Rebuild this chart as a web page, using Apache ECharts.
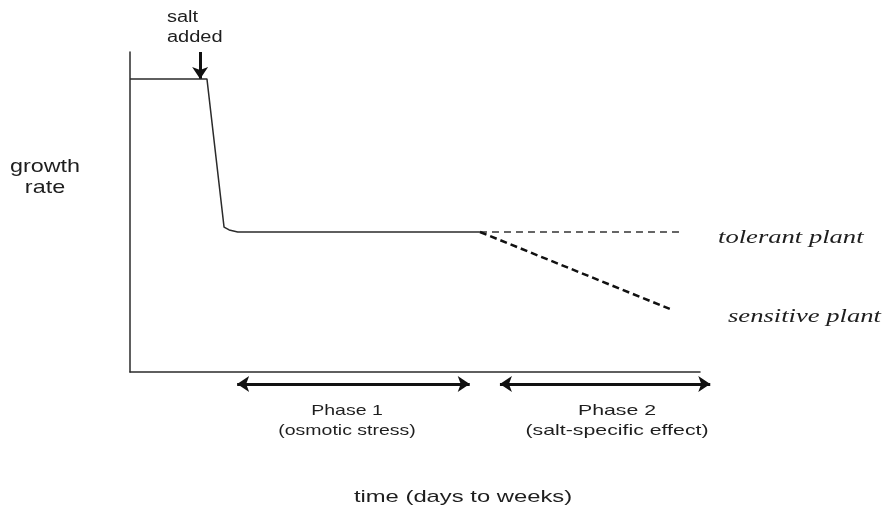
<!DOCTYPE html>
<html>
<head>
<meta charset="utf-8">
<script src="https://cdn.jsdelivr.net/npm/echarts@6/dist/echarts.min.js"></script>
<style>
  html, body { margin: 0; padding: 0; background: #fff; }
  #chart { width: 884px; height: 509px; }
</style>
</head>
<body>
<div id="chart"></div>
<script>
// growth curve (x = time in % of axis, y = growth rate in % of axis)
const timeMain = [0, 13.5, 16.5, 17.4, 18.9, 61.4];
const rateMain = [91.6, 91.6, 45.3, 44.4, 43.75, 43.75];
const timeTolerant = [61.4, 96.5];
const rateTolerant = [43.75, 43.75];
const timeSensitive = [61.4, 94.7];
const rateSensitive = [43.75, 19.7];
// "salt added" arrow
const saltTime = 12.3;
const saltRate = [100, 91.6];
// phase arrows (same time scale)
const phaseNames = ["Phase 1", "Phase 2"];
const phaseStart = [18.8, 64.9];
const phaseEnd = [59.6, 101.8];

const pairs = (xs, ys) => xs.map((x, i) => [x, ys[i]]);

const chart = echarts.init(document.getElementById("chart"), null, { renderer: "canvas" });

const lineColor = "#2b2b2b";
const sansFont = "'Liberation Sans', Arial, sans-serif";
const serifItalic = "italic 19px 'Liberation Serif', 'DejaVu Serif', serif";

// the source picture is stretched sideways, so the texts get a scaleX
const label = (text, x, y, font, sx, align, lh) => ({
  type: "text",
  x: x, y: y, scaleX: sx, scaleY: 1,
  style: {
    text: text, font: font, fill: "#1e1e1e",
    textAlign: align || "center", textVerticalAlign: "middle",
    lineHeight: lh || 20,
  },
});

const option = {
  animation: false,
  backgroundColor: "#fff",
  grid: [
    { left: 130, right: 184, top: 52, bottom: 137 },
    // strip under the x axis for the phase arrows; same px per unit as grid 0
    { left: 130, right: 127, top: 376, height: 16 },
  ],
  xAxis: [
    {
      type: "value", min: 0, max: 100, gridIndex: 0,
      axisLine: { show: true, onZero: false, lineStyle: { color: lineColor, width: 1.5 } },
      axisTick: { show: false }, axisLabel: { show: false }, splitLine: { show: false },
    },
    {
      type: "value", min: 0, max: 110, gridIndex: 1, show: false,
    },
  ],
  yAxis: [
    {
      type: "value", min: 0, max: 100, gridIndex: 0,
      axisLine: { show: true, onZero: false, lineStyle: { color: lineColor, width: 1.5 } },
      axisTick: { show: false }, axisLabel: { show: false }, splitLine: { show: false },
    },
    { type: "value", min: 0, max: 1, gridIndex: 1, show: false },
  ],
  series: [
    {
      name: "growth", type: "line", xAxisIndex: 0, yAxisIndex: 0,
      data: pairs(timeMain, rateMain), showSymbol: false,
      lineStyle: { color: lineColor, width: 1.5 },
    },
    {
      name: "tolerant", type: "line", xAxisIndex: 0, yAxisIndex: 0,
      data: pairs(timeTolerant, rateTolerant), showSymbol: false,
      lineStyle: { color: "#333", width: 1.5, type: [7, 5] },
    },
    {
      name: "sensitive", type: "line", xAxisIndex: 0, yAxisIndex: 0,
      data: pairs(timeSensitive, rateSensitive), showSymbol: false,
      lineStyle: { color: "#111", width: 2.5, type: [7, 4] },
    },
    {
      name: "salt", type: "lines", coordinateSystem: "cartesian2d",
      xAxisIndex: 0, yAxisIndex: 0,
      symbol: ["none", "arrow"], symbolSize: 12,
      lineStyle: { color: "#111", width: 3, opacity: 1 },
      data: [{ coords: [[saltTime, saltRate[0]], [saltTime, saltRate[1]]] }],
    },
    {
      name: "phases", type: "lines", coordinateSystem: "cartesian2d",
      xAxisIndex: 1, yAxisIndex: 1,
      symbol: ["arrow", "arrow"], symbolSize: 12,
      lineStyle: { color: "#111", width: 3, opacity: 1 },
      data: phaseNames.map((n, i) => ({
        name: n,
        coords: [[phaseStart[i], 0.5], [phaseEnd[i], 0.5]],
      })),
    },
  ],
  graphic: [
    label("salt\nadded", 167, 28, "16px " + sansFont, 1.25, "left", 20),
    label("growth\nrate", 45, 177, "19px " + sansFont, 1.23, "center", 21),
    label("tolerant plant", 718, 238, serifItalic, 1.4, "left"),
    label("sensitive plant", 728, 317, serifItalic, 1.4, "left"),
    label(phaseNames[0] + "\n(osmotic stress)", 347, 421, "15px " + sansFont, 1.3, "center", 20),
    label(phaseNames[1] + "\n(salt-specific effect)", 617, 421, "15px " + sansFont, 1.42, "center", 20),
    label("time (days to weeks)", 463, 497, "17px " + sansFont, 1.4, "center"),
  ],
};

chart.setOption(option);
</script>
</body>
</html>
